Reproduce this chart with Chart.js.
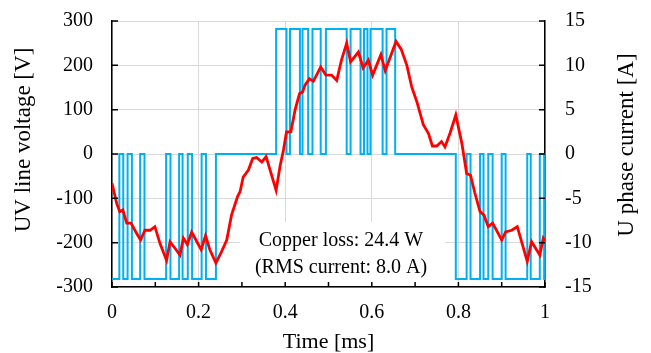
<!DOCTYPE html>
<html>
<head>
<meta charset="utf-8">
<script src="https://cdn.jsdelivr.net/npm/chart.js@4.4.0/dist/chart.umd.min.js"></script>
<style>
html,body{margin:0;padding:0;background:#fff;}
</style>
</head>
<body>
<canvas id="waveChart" width="651" height="353"></canvas>
<script>
// switching instants [ms] and the UV line voltage held after each one [V]
const vTimes = [0, 0.017, 0.026, 0.036, 0.046, 0.065, 0.075, 0.125, 0.135, 0.155, 0.163, 0.175, 0.185, 0.207, 0.217, 0.240,
  0.379, 0.403, 0.411, 0.434, 0.440, 0.453, 0.463, 0.482, 0.494, 0.542, 0.551, 0.574, 0.582, 0.590, 0.597, 0.625, 0.634, 0.654,
  0.794, 0.819, 0.828, 0.850, 0.858, 0.869, 0.879, 0.900, 0.909, 0.959, 0.967, 0.988, 0.998, 1.0];
const vLevels = [-282, 0, -282, 0, -282, 0, -282, 0, -282, 0, -282, 0, -282, 0, -282, 0,
  282, 0, 282, 0, 282, 0, 282, 0, 282, 0, 282, 0, 282, 0, 282, 0, 282, 0,
  -282, 0, -282, 0, -282, 0, -282, 0, -282, 0, -282, 0, -282, -282];

// U phase current samples [ms] / [A]
const iTimes = [0.000, 0.011, 0.018, 0.025, 0.034, 0.044, 0.055, 0.066, 0.076, 0.088, 0.099, 0.111, 0.126, 0.134, 0.145, 0.157,
  0.165, 0.174, 0.184, 0.196, 0.206, 0.216, 0.226, 0.240, 0.253, 0.265, 0.276, 0.290, 0.296, 0.303, 0.315, 0.325, 0.334, 0.346,
  0.356, 0.365, 0.379, 0.388, 0.396, 0.403, 0.413, 0.423, 0.433, 0.440, 0.446, 0.456, 0.465, 0.482, 0.494, 0.507, 0.519, 0.530,
  0.542, 0.551, 0.569, 0.580, 0.592, 0.602, 0.621, 0.631, 0.656, 0.668, 0.681, 0.692, 0.704, 0.719, 0.731, 0.740, 0.750, 0.761,
  0.769, 0.781, 0.794, 0.808, 0.819, 0.828, 0.838, 0.850, 0.859, 0.869, 0.879, 0.900, 0.909, 0.923, 0.936, 0.959, 0.969, 0.988,
  0.996, 1.000];
const iValues = [-3.3, -5.6, -6.5, -6.3, -7.8, -7.8, -8.8, -9.7, -8.6, -8.6, -8.2, -10.1, -12.0, -9.9, -10.6, -11.4,
  -9.5, -10.2, -8.8, -9.9, -10.8, -9.2, -10.8, -12.3, -11.0, -9.7, -6.9, -4.8, -4.2, -2.6, -1.8, -0.5, -0.4, -0.9,
  -0.3, -1.8, -4.1, -1.4, 0.45, 2.5, 2.5, 5.0, 6.8, 7.0, 7.8, 8.5, 8.2, 9.8, 8.9, 8.9, 8.3, 10.6,
  12.5, 10.4, 11.5, 9.7, 10.6, 8.9, 11.2, 9.4, 12.7, 11.8, 10.0, 7.6, 5.9, 3.3, 2.3, 0.9, 0.9, 1.4,
  0.8, 2.4, 4.4, 1.2, -2.2, -2.4, -4.4, -6.5, -6.9, -8.2, -7.8, -9.7, -8.8, -8.6, -8.2, -12.1, -9.9, -11.4,
  -9.5, -9.8];

const noteLines = ["Copper loss: 24.4 W", "(RMS current: 8.0 A)"];

const serif = "'Liberation Serif', 'Times New Roman', serif";
Chart.defaults.color = '#000';
Chart.defaults.font.family = serif;

// white box with the loss figures, under the traces
const notePlugin = {
  id: 'note',
  beforeDatasetsDraw(chart) {
    const c = chart.ctx;
    c.save();
    c.fillStyle = '#fff';
    c.fillRect(240, 222, 205, 63.5);
    c.fillStyle = '#000';
    c.font = '20px ' + serif;
    c.textAlign = 'center';
    c.textBaseline = 'middle';
    c.fillText(noteLines[0], 341, 241);
    c.fillText(noteLines[1], 341, 268);
    c.restore();
  }
};

// inward tick marks + both y titles (read bottom to top)
const ticksPlugin = {
  id: 'inTicks',
  afterDraw(chart) {
    const c = chart.ctx;
    const a = chart.chartArea;
    const xs = chart.scales.x, ys = chart.scales.y, ys1 = chart.scales.y1;
    c.save();
    c.strokeStyle = '#000';
    c.lineWidth = 1.5;
    c.beginPath();
    for (let v = -300; v <= 300; v += 100) {
      const y = ys.getPixelForValue(v);
      c.moveTo(a.left, y); c.lineTo(a.left + 6, y);
    }
    for (let v = -15; v <= 15; v += 5) {
      const y = ys1.getPixelForValue(v);
      c.moveTo(a.right, y); c.lineTo(a.right - 6, y);
    }
    for (let k = 0; k <= 10; k++) {
      const x = xs.getPixelForValue(k / 10);
      c.moveTo(x, a.bottom); c.lineTo(x, a.bottom - 5);
    }
    c.stroke();
    c.restore();

    const titles = [['UV line voltage [V]', 24, 140], ['U phase current [A]', 627, 145]];
    titles.forEach(([txt, x, y]) => {
      c.save();
      c.fillStyle = '#000';
      c.font = '23px ' + serif;
      c.textAlign = 'center';
      c.textBaseline = 'middle';
      c.translate(x, y);
      c.rotate(-Math.PI / 2);
      c.fillText(txt, 0, 0);
      c.restore();
    });
  }
};

const voltData = vTimes.map((t, i) => ({x: t, y: vLevels[i]}));
const currData = iTimes.map((t, i) => ({x: t, y: iValues[i]}));

function noPad(s) { s.paddingTop = 0; s.paddingBottom = 0; }

new Chart(document.getElementById('waveChart'), {
  type: 'line',
  data: {
    datasets: [{
      label: 'U phase current',
      data: currData,
      yAxisID: 'y1',
      borderColor: '#ff0000',
      borderWidth: 2.8,
      pointRadius: 0,
      tension: 0
    }, {
      label: 'UV line voltage',
      data: voltData,
      yAxisID: 'y',
      stepped: 'before',
      borderColor: '#00b0f0',
      borderWidth: 2,
      borderJoinStyle: 'miter',
      pointRadius: 0
    }]
  },
  options: {
    responsive: false,
    animation: false,
    devicePixelRatio: 1,
    layout: {padding: {top: 21, left: 0, right: 0, bottom: 0}},
    plugins: {legend: {display: false}, tooltip: {enabled: false}},
    scales: {
      x: {
        type: 'linear',
        min: 0,
        max: 1,
        ticks: {
          stepSize: 0.2, font: {size: 20}, padding: 14, maxRotation: 0,
          callback: v => String(Number(v.toFixed(1)))
        },
        grid: {color: '#d9d9d9', lineWidth: 1, drawTicks: false},
        border: {display: true, color: '#000', width: 1.5},
        title: {display: true, text: 'Time [ms]', font: {size: 22, lineHeight: 1}, padding: 0},
        afterFit(s) { s.height = 66; s.paddingLeft = 0; s.paddingRight = 0; }
      },
      y: {
        position: 'left',
        min: -300,
        max: 300,
        ticks: {stepSize: 100, font: {size: 20}, padding: 19},
        grid: {color: '#d9d9d9', lineWidth: 1, drawTicks: false},
        border: {display: true, color: '#000', width: 1.5},
        afterFit(s) { s.width = 112; noPad(s); }
      },
      y1: {
        position: 'right',
        min: -15,
        max: 15,
        ticks: {stepSize: 5, font: {size: 20}, padding: 20},
        grid: {drawOnChartArea: false, drawTicks: false},
        border: {display: true, color: '#000', width: 1.5},
        afterFit(s) { s.width = 106; noPad(s); }
      }
    }
  },
  plugins: [notePlugin, ticksPlugin]
});
</script>
</body>
</html>
